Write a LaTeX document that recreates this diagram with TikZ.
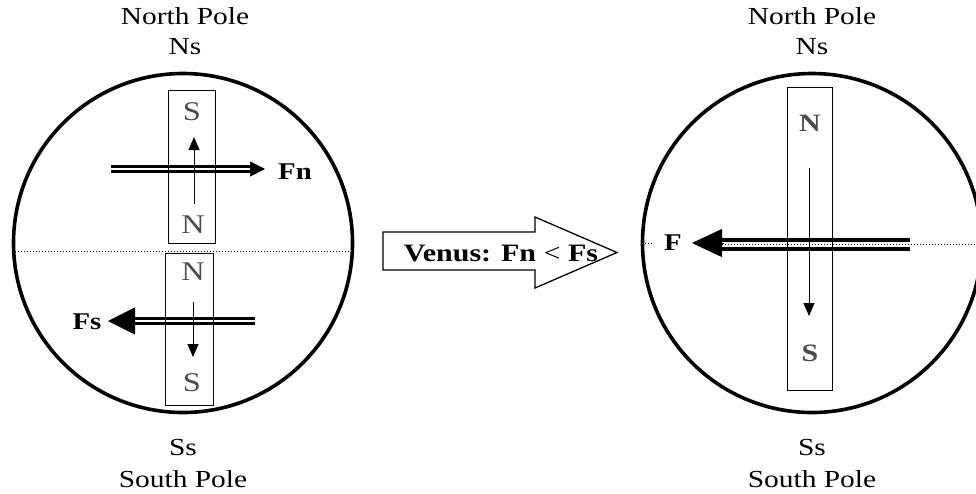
\documentclass[tikz,border=0pt]{standalone}
\usepackage{fontspec}
\setmainfont[FakeStretch=1.2]{Liberation Serif}
\usetikzlibrary{arrows.meta}
\begin{document}
\begin{tikzpicture}[x=1pt,y=-1pt,
  globe/.style={circle, draw, line width=3.6pt, minimum size=339pt, inner sep=0pt},
  magnet/.style={draw, line width=1pt, inner sep=0pt},
  equator/.style={dotted, line width=1pt},
  pole/.style={font=\fontsize{24.5}{26}\selectfont, inner sep=0pt},
  mletter/.style={font=\fontsize{27}{29}\selectfont, text=black!70, inner sep=0pt},
  flabel/.style={font=\bfseries\fontsize{24}{26}\selectfont, inner sep=0pt},
  shaft/.style={draw, line width=2.6pt, double=white, double distance=2.6pt},
  fieldarrow/.style={line width=1pt, -{Triangle[length=13pt,width=11pt]}},
]
\clip (0,0) rectangle (976,493);
\fill[white] (0,0) rectangle (976,493);

% ---------- left globe ----------
\draw[equator] (15,251) -- (352,251);
\node[globe] (gl) at (183,243) {};

% Fn arrow (shaft first, magnet drawn over it)
\coordinate (fn0) at (111,169);
\coordinate (fn1) at (252,169);
\coordinate (fnt) at (265,169);
\draw[shaft] (fn0) -- (fn1);
\draw[line width=0.5pt, -{Triangle[length=15pt,width=15pt]}] (fn1) -- (fnt);
\node[flabel] (fnl) at (295,172) {Fn};

% Fs arrow
\coordinate (fs0) at (255,321);
\coordinate (fs1) at (130,321);
\coordinate (fst) at (108,321);
\draw[shaft] (fs0) -- (fs1);
\draw[line width=0.5pt, -{Triangle[length=27pt,width=27pt]}] (fs1) -- (fst);
\node[flabel] (fsl) at (87,322) {Fs};

\node[magnet, minimum width=47pt, minimum height=153pt] (mlu) at (191.5,166.5) {};
\node[magnet, minimum width=48pt, minimum height=152pt] (mll) at (189,329) {};

\node[mletter] (lus) at (192,112) {S};
\node[mletter] (lun) at (193,225) {N};
\node[mletter] (lln) at (193,272) {N};
\node[mletter] (lls) at (192,383) {S};

\coordinate (lua) at (194,204);
\coordinate (lub) at (194,137);
\draw[fieldarrow] (lua) -- (lub);
\coordinate (lla) at (193,302);
\coordinate (llb) at (193,357);
\draw[fieldarrow] (lla) -- (llb);

\node[pole] (lnp) at (185,16) {North Pole};
\node[pole] (lns) at (185,47) {Ns};
\node[pole] (lss) at (183,447) {Ss};
\node[pole] (lsp) at (183,479) {South Pole};

% ---------- block arrow ----------
\draw[line width=1.3pt, fill=white, line join=miter]
  (383,232) -- (535,232) -- (535,217) -- (617,252.5) -- (535,288) -- (535,270) -- (383,270) -- cycle;
\node[flabel, font=\bfseries\fontsize{25}{27}\selectfont] (venus) at (501,253) {Venus: Fn {\mdseries<} Fs};

% ---------- right globe ----------
\node[globe] (gr) at (812,243) {};

% F arrow
\coordinate (f0) at (910,244.5);
\coordinate (f1) at (718,244.5);
\coordinate (ft) at (692,243);
\draw[line width=4.5pt, double=white, double distance=4.5pt] (f0) -- (f1);
\draw[equator] (722,244.5) -- (976,244.5);
\draw[equator] (645,243) -- (653,243);
\draw[line width=0.5pt, -{Triangle[length=30pt,width=28pt]}] (724,243) -- (ft);
\node[flabel] (fl) at (673,243) {F};

\node[magnet, minimum width=45pt, minimum height=303pt] (mr) at (809.5,238.5) {};
\node[mletter, font=\bfseries\fontsize{25}{27}\selectfont] (rn) at (810,123) {N};
\node[mletter, font=\bfseries\fontsize{25}{27}\selectfont] (rs) at (810,353) {S};
\coordinate (rra) at (809,168);
\coordinate (rrb) at (809,316);
\draw[fieldarrow] (rra) -- (rrb);

\node[pole] (rnp) at (812,16) {North Pole};
\node[pole] (rns) at (812,47) {Ns};
\node[pole] (rss) at (812,447) {Ss};
\node[pole] (rsp) at (812,479) {South Pole};
\end{tikzpicture}
\end{document}
